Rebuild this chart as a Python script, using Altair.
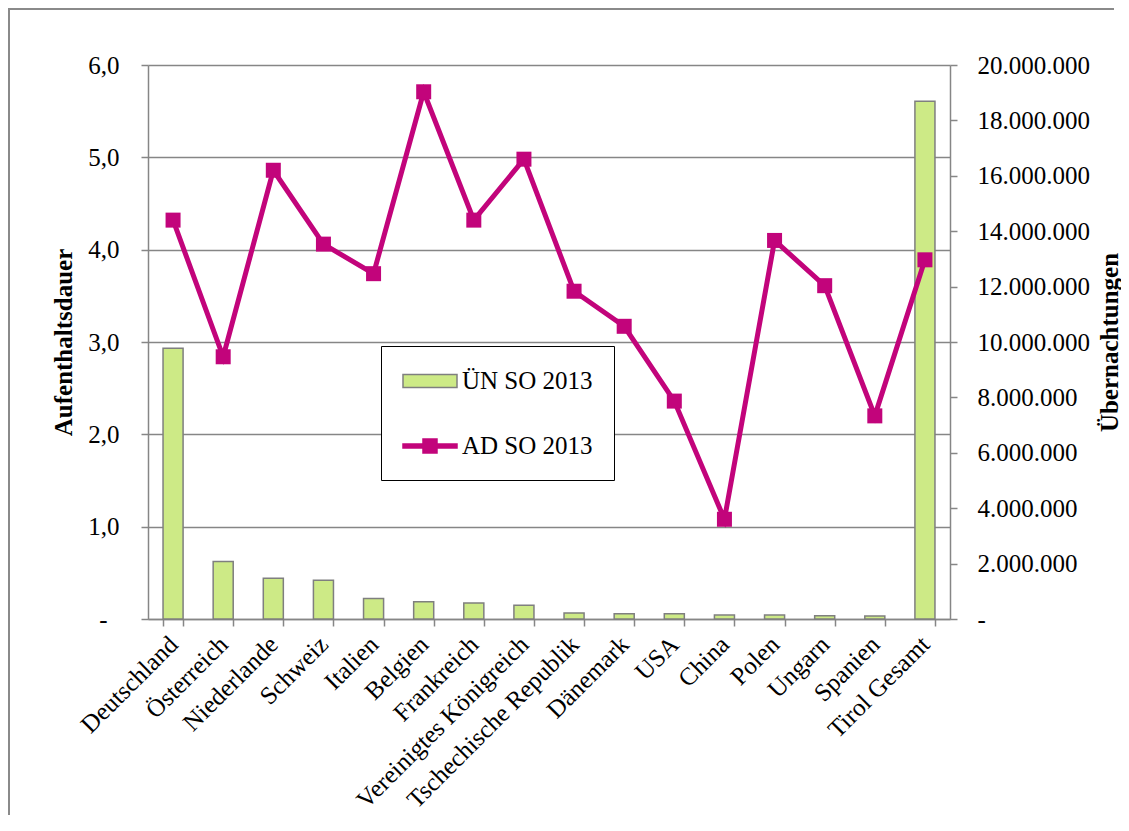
import altair as alt
import pandas as pd

countries = ["Deutschland", "Österreich", "Niederlande", "Schweiz", "Italien", "Belgien",
             "Frankreich", "Vereinigtes Königreich", "Tschechische Republik", "Dänemark",
             "USA", "China", "Polen", "Ungarn", "Spanien", "Tirol Gesamt"]
uen_so_2013 = [9770000, 2080000, 1470000, 1400000, 740000, 620000, 580000, 500000,
               220000, 190000, 190000, 140000, 140000, 120000, 110000, 18690000]
ad_so_2013 = [4.32, 2.84, 4.86, 4.06, 3.74, 5.71, 4.32, 4.98, 3.55, 3.17,
              2.36, 1.08, 4.10, 3.61, 2.20, 3.89]
series_names = ["ÜN SO 2013", "AD SO 2013"]
left_ticks = [0, 1, 2, 3, 4, 5, 6]
right_ticks = [0, 2000000, 4000000, 6000000, 8000000, 10000000,
               12000000, 14000000, 16000000, 18000000, 20000000]

GREEN = "#cdea86"
MAGENTA = "#c2047b"
GRAY = "#868686"
BARSTROKE = "#7f7f7f"
FONT = "Liberation Serif"
FS = 25

# legend symbol paths (unit = 13 px, symbol box starts at x=-1)
BAR_PATH = "M-1,-0.5H3.154V0.5H-1Z"
LINE_PATH = ("M-1,-0.154H0.538V-0.54H1.615V-0.154H3.154V0.154H1.615V0.54"
             "H0.538V0.154H-1Z")

df = pd.DataFrame({"country": countries, "uen": uen_so_2013, "ad": ad_so_2013})
leg_df = pd.DataFrame({"country": [countries[0], countries[0]], "ad": [3.0, 3.0],
                       "series": series_names})

x_enc = alt.X("country:N", sort=countries,
              scale=alt.Scale(paddingInner=0.6, paddingOuter=0.3),
              axis=alt.Axis(title=None, labelAngle=-45, labelBaseline="middle",
                            labelAlign="right", labelLimit=400,
                            labelFont=FONT, labelFontSize=FS,
                            labelColor="black", tickBand="extent", tickSize=7,
                            tickColor=GRAY, tickWidth=1.5, domainColor=GRAY,
                            domainWidth=1.5, labelPadding=14, grid=False))

leg = alt.Legend(title=None, orient="none", legendX=233, legendY=281,
                 direction="vertical", fillColor="white", strokeColor="black",
                 padding=21, rowPadding=38,
                 labelFont=FONT, labelFontSize=FS, labelColor="black",
                 labelOffset=32, symbolSize=676, symbolStrokeWidth=1.5,
                 symbolOpacity=1)

border_top = alt.Chart(pd.DataFrame({"k": [0]})).mark_rule(
    stroke="#8a8a8a", strokeWidth=2
).encode(x=alt.value(-139), x2=alt.value(966), y=alt.value(-56))
border_left = alt.Chart(pd.DataFrame({"k": [0]})).mark_rule(
    stroke="#8a8a8a", strokeWidth=2
).encode(x=alt.value(-139), y=alt.value(-57), y2=alt.value(750))

bars = alt.Chart(df).mark_bar(
    fill=GREEN, stroke=BARSTROKE, strokeWidth=1.5, opacity=1
).encode(
    x=x_enc,
    y=alt.Y("uen:Q", scale=alt.Scale(domain=[0, 20000000], nice=False, zero=True),
            axis=alt.Axis(orient="right", values=right_ticks, grid=False,
                          title="Übernachtungen", titleFont=FONT, titleFontSize=FS,
                          titleFontWeight="bold", titleColor="black", titleAngle=-90,
                          titleBaseline="alphabetic", titleAlign="center",
                          titleX=167, titleY=277,
                          labelFont=FONT, labelFontSize=FS, labelColor="black",
                          labelPadding=20, tickSize=7, tickColor=GRAY, tickWidth=1.5,
                          domainColor=GRAY, domainWidth=1.5,
                          labelExpr="datum.value == 0 ? '-' : replace(format(datum.value, ','), regexp(',', 'g'), '.')")),
)

line_y = alt.Y("ad:Q", scale=alt.Scale(domain=[0, 6], nice=False, zero=True),
               axis=alt.Axis(orient="left", values=left_ticks, grid=True,
                             gridColor=GRAY, gridWidth=1.5,
                             title="Aufenthaltsdauer", titleFont=FONT, titleFontSize=FS,
                             titleFontWeight="bold", titleColor="black", titleAngle=-90,
                             titleBaseline="alphabetic", titleAlign="center",
                             titleX=-77, titleY=277,
                             labelFont=FONT, labelFontSize=FS, labelColor="black",
                             labelPadding={"condition": {"test": "datum.value == 0", "value": 34}, "value": 22},
                             tickSize=7, tickColor=GRAY, tickWidth=1.5,
                             domainColor=GRAY, domainWidth=1.5,
                             labelExpr="datum.value == 0 ? '-' : replace(format(datum.value, '.1f'), '.', ',')"))

line = alt.Chart(df).mark_line(strokeWidth=5, stroke=MAGENTA).encode(x=x_enc, y=line_y)

points = alt.Chart(df).mark_point(
    shape="square", filled=True, size=225, opacity=1, fill=MAGENTA, strokeOpacity=0
).encode(x=x_enc, y=line_y)

legend_layer = alt.Chart(leg_df).mark_point(filled=True, opacity=0).encode(
    x=x_enc,
    y=line_y,
    fill=alt.Fill("series:N", scale=alt.Scale(domain=series_names, range=[GREEN, MAGENTA]), legend=leg),
    stroke=alt.Stroke("series:N", scale=alt.Scale(domain=series_names, range=[BARSTROKE, MAGENTA]), legend=leg),
    shape=alt.Shape("series:N", scale=alt.Scale(domain=series_names, range=[BAR_PATH, LINE_PATH]), legend=leg),
)

lines = alt.layer(line, points, legend_layer)

chart = alt.layer(border_top, border_left, bars, lines).resolve_scale(y="independent").properties(
    width=802, height=554,
    autosize=alt.AutoSizeParams(type="none"),
    padding={"left": 140, "top": 57, "right": 171, "bottom": 196},
    background="white",
).configure_view(strokeOpacity=0)

chart.save("out.html", embed_options={"renderer": "svg", "actions": False})
